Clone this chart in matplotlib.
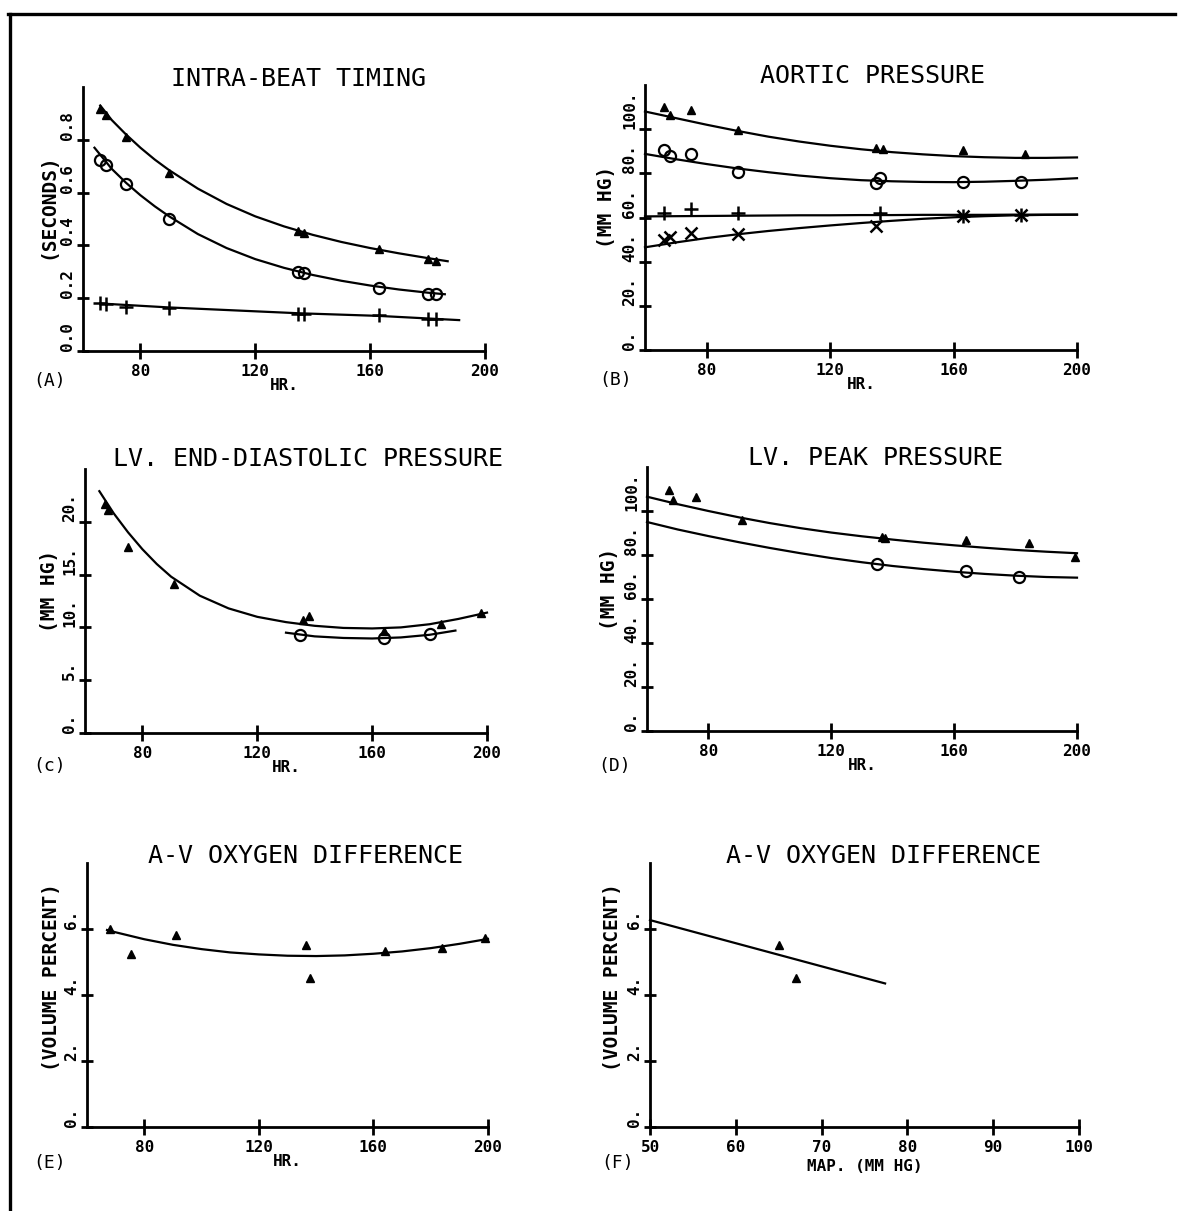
import matplotlib.pyplot as plt
from matplotlib.lines import Line2D

# figure size in pixels
W, H = 1189, 1211

# ---------------- data ----------------
# (A) intra-beat timing, seconds
a_tri_x = [66, 68, 75, 90, 135, 137, 163, 180, 183]
a_tri_y = [0.915, 0.894, 0.81, 0.673, 0.456, 0.448, 0.385, 0.347, 0.342]
a_circ_x = [66, 68, 75, 90, 135, 137, 163, 180, 183]
a_circ_y = [0.723, 0.705, 0.633, 0.499, 0.300, 0.297, 0.237, 0.215, 0.215]
a_plus_x = [66, 68, 75, 90, 135, 137, 163, 180, 183]
a_plus_y = [0.18, 0.178, 0.168, 0.161, 0.142, 0.142, 0.136, 0.123, 0.12]
a_fit_tri_x = [66, 70, 75, 80, 85, 90, 100, 110, 120, 130, 140, 150, 160, 170, 180, 187]
a_fit_tri_y = [0.93, 0.875, 0.82, 0.77, 0.725, 0.685, 0.615, 0.557, 0.51, 0.472, 0.44,
               0.413, 0.39, 0.37, 0.352, 0.34]
a_fit_circ_x = [64, 70, 75, 80, 85, 90, 100, 110, 120, 130, 140, 150, 160, 170, 180, 186]
a_fit_circ_y = [0.77, 0.69, 0.637, 0.59, 0.548, 0.51, 0.443, 0.39, 0.348, 0.315, 0.288,
                0.266, 0.248, 0.233, 0.221, 0.215]
a_fit_plus_x = [66, 90, 135, 163, 191]
a_fit_plus_y = [0.18, 0.165, 0.143, 0.133, 0.117]

# (B) aortic pressure, mm Hg
b_tri_x = [66, 68, 75, 90, 135, 137, 163, 183]
b_tri_y = [110, 106.5, 108.7, 99.7, 91.4, 91, 90.6, 88.7]
b_circ_x = [66, 68, 75, 90, 135, 136, 163, 182]
b_circ_y = [90.6, 87.9, 88.8, 80.8, 75.5, 77.8, 76.3, 76.3]
b_plus_x = [66, 75, 90, 136, 163, 182]
b_plus_y = [61.9, 63.7, 61.9, 61.9, 60.7, 61.3]
b_x_x = [66, 68, 75, 90, 135, 163, 182]
b_x_y = [49.8, 51, 53.2, 52.4, 56.2, 60.7, 61.3]
b_fit_x = [60, 70, 80, 90, 100, 110, 120, 130, 140, 150, 160, 170, 180, 190, 200]
b_fit_tri = [108, 105, 102, 99.2, 96.6, 94.4, 92.5, 90.9, 89.6, 88.6, 87.8, 87.3, 87.0, 87.0, 87.2]
b_fit_circ = [88.8, 86.4, 84.2, 82.2, 80.5, 79.0, 77.8, 76.9, 76.4, 76.1, 76.0, 76.2, 76.6, 77.1, 77.8]
b_fit_plus = [60.5, 60.6, 60.7, 60.8, 60.9, 61.0, 61.0, 61.1, 61.1, 61.2, 61.2, 61.2, 61.3, 61.3, 61.3]
b_fit_x_mk = [46.5, 48.7, 50.7, 52.4, 53.9, 55.2, 56.4, 57.5, 58.5, 59.4, 60.1, 60.6, 61.0, 61.2, 61.3]

# (C) LV end-diastolic pressure
c_tri_x = [67, 68, 75, 91, 136, 138, 164, 184, 198]
c_tri_y = [21.65, 21.1, 17.6, 14.1, 10.7, 11.1, 9.7, 10.3, 11.4]
c_circ_x = [135, 164, 180]
c_circ_y = [9.3, 9.0, 9.4]
c_fit_tri_x = [65, 70, 75, 80, 85, 90, 100, 110, 120, 130, 140, 150, 160, 170, 180, 190, 200]
c_fit_tri_y = [22.9, 20.8, 19.0, 17.4, 16.0, 14.8, 13.0, 11.8, 11.0, 10.5, 10.15, 9.95,
               9.9, 10.0, 10.3, 10.8, 11.4]
c_fit_circ_x = [130, 140, 150, 160, 170, 180, 189]
c_fit_circ_y = [9.5, 9.15, 9.0, 8.95, 9.05, 9.3, 9.7]

# (D) LV peak pressure
d_tri_x = [67, 68.5, 76, 91, 136.5, 137.5, 164, 184.5, 199.5]
d_tri_y = [109.5, 105, 106.5, 95.9, 88.3, 87.5, 86.8, 85.6, 79]
d_circ_x = [135, 164, 181]
d_circ_y = [75.9, 72.9, 69.9]
d_fit_x = [60, 70, 80, 90, 100, 110, 120, 130, 140, 150, 160, 170, 180, 190, 200]
d_fit_tri = [106.5, 103.1, 100.0, 97.1, 94.5, 92.2, 90.2, 88.5, 87.0, 85.6, 84.4, 83.3, 82.3, 81.5, 80.8]
d_fit_circ = [95, 91.6, 88.6, 85.8, 83.2, 80.8, 78.6, 76.7, 75.0, 73.6, 72.4, 71.4, 70.6, 70.0, 69.7]

# (E) A-V oxygen difference vs HR
e_tri_x = [68, 75.5, 91, 136.5, 138, 164, 184, 199]
e_tri_y = [5.99, 5.23, 5.82, 5.52, 4.52, 5.34, 5.42, 5.72]
e_fit_x = [67, 70, 80, 90, 100, 110, 120, 130, 140, 150, 160, 170, 180, 190, 200]
e_fit_y = [5.97, 5.9, 5.69, 5.52, 5.39, 5.29, 5.23, 5.19, 5.18, 5.2, 5.25, 5.32, 5.42, 5.55, 5.7]

# (F) A-V oxygen difference vs MAP
f_tri_x = [65, 67]
f_tri_y = [5.52, 4.52]
f_fit_x = [50, 77.4]
f_fit_y = [6.27, 4.35]

hr_ticks = [80, 120, 160, 200]
map_ticks = [50, 60, 70, 80, 90, 100]

FONT = "DejaVu Sans Mono"
plt.rcParams["font.family"] = FONT


def rect(l, r, t, b):
    return [l / W, 1 - b / H, (r - l) / W, (b - t) / H]


def style_axes(ax, xlim, ylim, xticks, yticks, ylabels, ylab, xlab, lab_y, xlab_y=-0.13):
    ax.set_xlim(*xlim)
    ax.set_ylim(*ylim)
    for s in ["top", "right"]:
        ax.spines[s].set_visible(False)
    for s in ["left", "bottom"]:
        ax.spines[s].set_linewidth(2)
    ax.set_xticks(xticks)
    ax.set_xticklabels([str(t) for t in xticks], fontsize=11.5, fontweight="bold")
    ax.set_yticks(yticks)
    ax.set_yticklabels(ylabels, fontsize=11.5, fontweight="bold")
    ax.tick_params(axis="x", direction="inout", length=11, width=2, pad=4)
    ax.tick_params(axis="y", direction="inout", length=8, width=2, pad=1.5)
    for lbl in ax.get_yticklabels():
        lbl.set_rotation(90)
        lbl.set_va("bottom")
    ax.set_ylabel(ylab, fontsize=14, fontweight="bold", va="center")
    ax.yaxis.set_label_coords(-0.088, lab_y)
    ax.set_xlabel(xlab, fontsize=11.5, fontweight="bold", va="center")
    ax.xaxis.set_label_coords(0.5, xlab_y)


def line(ax, x, y):
    ax.plot(x, y, color="black", lw=1.6, clip_on=False)


def tri(ax, x, y):
    ax.plot(x, y, ls="none", marker="^", ms=6, color="black", clip_on=False)


def circ(ax, x, y):
    ax.plot(x, y, ls="none", marker="o", ms=8, mfc="none", mec="black", mew=1.6, clip_on=False)


def plus(ax, x, y):
    ax.plot(x, y, ls="none", marker="+", ms=10, mec="black", mew=1.8, clip_on=False)


def xmark(ax, x, y):
    ax.plot(x, y, ls="none", marker="x", ms=8, mec="black", mew=1.8, clip_on=False)


fig = plt.figure(figsize=(W / 100, H / 100), dpi=100)

# (A)
ax = fig.add_axes(rect(83, 485, 87, 351))
line(ax, a_fit_tri_x, a_fit_tri_y)
line(ax, a_fit_circ_x, a_fit_circ_y)
line(ax, a_fit_plus_x, a_fit_plus_y)
tri(ax, a_tri_x, a_tri_y)
circ(ax, a_circ_x, a_circ_y)
plus(ax, a_plus_x, a_plus_y)
style_axes(ax, (60, 200), (0, 1.0), hr_ticks, [0, 0.2, 0.4, 0.6, 0.8],
           ["0.0", "0.2", "0.4", "0.6", "0.8"], "(SECONDS)", "HR.", 0.55)

# (B)
ax = fig.add_axes(rect(645, 1077, 85, 350))
line(ax, b_fit_x, b_fit_tri)
line(ax, b_fit_x, b_fit_circ)
line(ax, b_fit_x, b_fit_plus)
line(ax, b_fit_x, b_fit_x_mk)
tri(ax, b_tri_x, b_tri_y)
circ(ax, b_circ_x, b_circ_y)
plus(ax, b_plus_x, b_plus_y)
xmark(ax, b_x_x, b_x_y)
style_axes(ax, (60, 200), (0, 120), hr_ticks, [0, 20, 40, 60, 80, 100],
           ["0.", "20.", "40.", "60.", "80.", "100."], "(MM HG)", "HR.", 0.54)

# (C)
ax = fig.add_axes(rect(85, 487, 469, 733))
line(ax, c_fit_tri_x, c_fit_tri_y)
line(ax, c_fit_circ_x, c_fit_circ_y)
tri(ax, c_tri_x, c_tri_y)
circ(ax, c_circ_x, c_circ_y)
style_axes(ax, (60, 200), (0, 25), hr_ticks, [0, 5, 10, 15, 20],
           ["0.", "5.", "10.", "15.", "20."], "(MM HG)", "HR.", 0.54)

# (D)
ax = fig.add_axes(rect(647, 1077, 467, 731))
line(ax, d_fit_x, d_fit_tri)
line(ax, d_fit_x, d_fit_circ)
tri(ax, d_tri_x, d_tri_y)
circ(ax, d_circ_x, d_circ_y)
style_axes(ax, (60, 200), (0, 120), hr_ticks, [0, 20, 40, 60, 80, 100],
           ["0.", "20.", "40.", "60.", "80.", "100."], "(MM HG)", "HR.", 0.54)

# (E)
ax = fig.add_axes(rect(87, 488, 863, 1127))
line(ax, e_fit_x, e_fit_y)
tri(ax, e_tri_x, e_tri_y)
style_axes(ax, (60, 200), (0, 8), hr_ticks, [0, 2, 4, 6],
           ["0.", "2.", "4.", "6."], "(VOLUME PERCENT)", "HR.", 0.57)

# (F)
ax = fig.add_axes(rect(650, 1079, 863, 1127))
line(ax, f_fit_x, f_fit_y)
tri(ax, f_tri_x, f_tri_y)
style_axes(ax, (50, 100), (0, 8), map_ticks, [0, 2, 4, 6],
           ["0.", "2.", "4.", "6."], "(VOLUME PERCENT)", "MAP. (MM HG)", 0.57, xlab_y=-0.148)

# titles and panel letters (pixel positions)
titles = [("INTRA-BEAT TIMING", 299, 79), ("AORTIC PRESSURE", 872, 76),
          ("LV. END-DIASTOLIC PRESSURE", 308, 459), ("LV. PEAK PRESSURE", 876, 458),
          ("A-V OXYGEN DIFFERENCE", 305, 856), ("A-V OXYGEN DIFFERENCE", 883, 856)]
for txt, x, y in titles:
    fig.text(x / W, 1 - y / H, txt, ha="center", va="center", fontsize=18)

letters = [("(A)", 50, 381), ("(B)", 616, 380), ("(c)", 50, 766),
           ("(D)", 615, 766), ("(E)", 50, 1163), ("(F)", 618, 1163)]
for txt, x, y in letters:
    fig.text(x / W, 1 - y / H, txt, ha="center", va="center", fontsize=13)

# page frame (left and top edges)
fig.add_artist(Line2D([10 / W, 10 / W], [0, 1 - 14 / H], color="black", lw=2.4))
fig.add_artist(Line2D([8 / W, 1175 / W], [1 - 14 / H, 1 - 14 / H], color="black", lw=2.4))

fig.savefig("out.png", dpi=100, facecolor="white")
